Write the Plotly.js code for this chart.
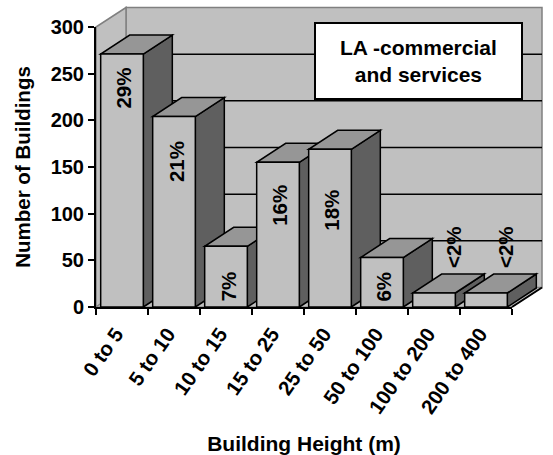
<!DOCTYPE html>
<html>
<head>
<meta charset="utf-8">
<script src="https://cdn.plot.ly/plotly-3.0.1.min.js"></script>
<style>
  html, body { margin: 0; padding: 0; background: #ffffff; }
  #chart { width: 553px; height: 455px; }
</style>
</head>
<body>
<div id="chart"></div>
<script>
// Building counts per height band (LA, commercial and services)
const categories = ['0 to 5', '5 to 10', '10 to 15', '15 to 25', '25 to 50', '50 to 100', '100 to 200', '200 to 400'];
const buildings = [271, 204, 65, 155, 169, 53, 15, 15];
const shareLabels = ['29%', '21%', '7%', '16%', '18%', '6%', '<2%', '<2%'];
const yTickValues = [0, 50, 100, 150, 200, 250, 300];

// ---- geometry of the pseudo-3D frame ----
const W = 553, H = 455;
const M = { l: 96, r: 41, t: 27, b: 148 };
const plotW = W - M.l - M.r;
const plotH = H - M.t - M.b;
const yMax = 300;
const n = categories.length;
const barWidth = 0.82;

// depth of walls and columns, pixels converted to paper units
const wallDX = 30 / plotW, wallDY = 19.5 / plotH;
const barDX = 29 / plotW, barDY = 19 / plotH;

const xp = c => (c + 0.5) / n;   // category index -> paper x
const yp = v => v / yMax;         // value -> paper y

const FONT = 'Liberation Sans, Arial, sans-serif';
const WALL = '#c0c0c0', EDGE = '#808080';
const FRONT = '#c0c0c0', TOP = '#969696', SIDE = '#5f5f5f';

// vertical offset (px) of each percentage label from its column top
const labelShift = [-13, -24, -24, -22, -40, -13, 24, 24];

function poly(pts) {
  return 'M' + pts.map(p => p[0] + ',' + p[1]).join(' L') + ' Z';
}
function paperShape(extra) {
  return Object.assign({ xref: 'paper', yref: 'paper', layer: 'below' }, extra);
}

const shapes = [];
// back wall
shapes.push(paperShape({
  type: 'rect', x0: wallDX, x1: 1 + wallDX, y0: wallDY, y1: 1 + wallDY,
  fillcolor: WALL, line: { color: EDGE, width: 1.5 }
}));
// side wall
shapes.push(paperShape({
  type: 'path', path: poly([[0, 0], [0, 1], [wallDX, 1 + wallDY], [wallDX, wallDY]]),
  fillcolor: WALL, line: { color: EDGE, width: 1.5 }
}));
// floor
shapes.push(paperShape({
  type: 'path', path: poly([[0, 0], [1, 0], [1 + wallDX, wallDY], [wallDX, wallDY]]),
  fillcolor: WALL, line: { color: EDGE, width: 1 }
}));
shapes.push(paperShape({
  type: 'line', x0: 1, y0: 0, x1: 1 + wallDX, y1: wallDY,
  line: { color: '#000000', width: 2 }
}));
// gridlines on the back wall
yTickValues.filter(v => v > 0 && v < yMax).forEach(v => {
  shapes.push(paperShape({
    type: 'line', x0: wallDX, x1: 1 + wallDX, y0: yp(v) + wallDY, y1: yp(v) + wallDY,
    line: { color: '#000000', width: 1.5 }
  }));
});
// title box on the back wall
const boxPx = { x0: 315, x1: 522, y0: 23, y1: 99 };
shapes.push(paperShape({
  type: 'rect',
  x0: (boxPx.x0 - M.l) / plotW, x1: (boxPx.x1 - M.l) / plotW,
  y0: (H - M.b - boxPx.y1) / plotH, y1: (H - M.b - boxPx.y0) / plotH,
  fillcolor: '#ffffff', line: { color: '#000000', width: 2 }
}));
// top and side faces of the columns, left to right
buildings.forEach((v, i) => {
  const xl = xp(i - barWidth / 2), xr = xp(i + barWidth / 2), yt = yp(v);
  shapes.push(paperShape({
    type: 'path', path: poly([[xr, 0], [xr, yt], [xr + barDX, yt + barDY], [xr + barDX, barDY]]),
    fillcolor: SIDE, line: { color: '#000000', width: 1.5 }
  }));
  shapes.push(paperShape({
    type: 'path', path: poly([[xl, yt], [xr, yt], [xr + barDX, yt + barDY], [xl + barDX, yt + barDY]]),
    fillcolor: TOP, line: { color: '#000000', width: 1.5 }
  }));
});

const boldFont = size => ({ family: FONT, size: size, color: '#000000', weight: 'bold' });

const annotations = buildings.map((v, i) => ({
  x: categories[i], y: v, xref: 'x', yref: 'y',
  text: shareLabels[i], textangle: -90, showarrow: false,
  yanchor: labelShift[i] < 0 ? 'top' : 'bottom',
  yshift: labelShift[i],
  xshift: labelShift[i] < 0 ? 2 : 19,
  borderpad: 0,
  font: boldFont(20.5)
}));
annotations.push({
  xref: 'paper', yref: 'paper',
  x: ((boxPx.x0 + boxPx.x1) / 2 - M.l) / plotW,
  y: (H - M.b - (boxPx.y0 + boxPx.y1) / 2) / plotH,
  text: 'LA -commercial<br>and services', showarrow: false,
  xanchor: 'center', yanchor: 'middle',
  font: boldFont(21)
});

const trace = {
  type: 'bar',
  x: categories,
  y: buildings,
  width: barWidth,
  marker: { color: FRONT, line: { color: '#000000', width: 1.5 } },
  hoverinfo: 'x+y'
};

const layout = {
  width: W, height: H,
  margin: M,
  paper_bgcolor: '#ffffff',
  plot_bgcolor: 'rgba(0,0,0,0)',
  showlegend: false,
  xaxis: {
    type: 'category',
    range: [-0.5, n - 0.5],
    tickson: 'boundaries',
    ticks: 'outside', ticklen: 6, tickwidth: 2, tickcolor: '#000000',
    showline: true, linecolor: '#000000', linewidth: 2,
    showgrid: false, zeroline: false,
    tickangle: -55,
    ticklabelstandoff: 5,
    ticklabelshift: -6,
    tickfont: boldFont(20.5),
    title: { text: 'Building Height (m)', font: boldFont(21), standoff: 22 },
    fixedrange: true
  },
  yaxis: {
    range: [0, yMax],
    tickvals: yTickValues,
    ticks: 'outside', ticklen: 6, tickwidth: 2, tickcolor: '#000000',
    showline: true, linecolor: '#000000', linewidth: 2,
    showgrid: false, zeroline: false,
    tickfont: boldFont(20),
    title: { text: 'Number of Buildings', font: boldFont(20.5), standoff: 14 },
    fixedrange: true
  },
  shapes: shapes,
  annotations: annotations
};

Plotly.newPlot('chart', [trace], layout, { displayModeBar: false, staticPlot: true });
</script>
</body>
</html>
